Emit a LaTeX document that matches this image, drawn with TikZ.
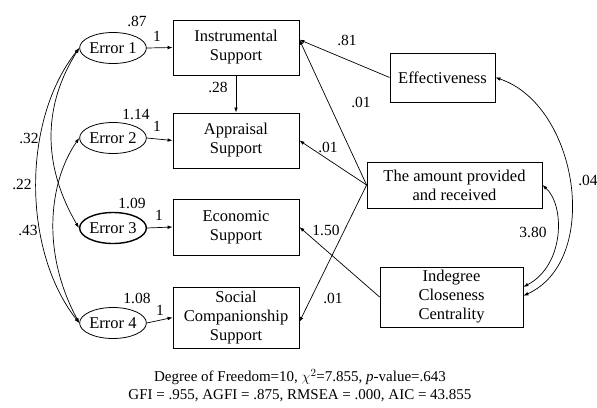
\documentclass[tikz,border=0pt]{standalone}
\usepackage{fontspec}
\setmainfont{Liberation Serif}
\usetikzlibrary{arrows.meta,shapes.geometric}
\begin{document}
\begin{tikzpicture}[x=1pt,y=-1pt,
  box/.style={draw, line width=0.8pt, align=center, inner sep=2pt, font=\fontsize{16.5}{19}\selectfont},
  err/.style={draw, ellipse, line width=0.8pt, minimum width=62pt, minimum height=31pt, inner sep=0pt, font=\fontsize{16.5}{19}\selectfont},
  lab/.style={font=\fontsize{15.5}{18}\selectfont, inner sep=0pt},
  arr/.style={line width=0.7pt, -{Latex[length=5pt,width=3.6pt]}},
  biarr/.style={line width=0.7pt, {Latex[length=5pt,width=3.6pt]}-{Latex[length=5pt,width=3.6pt]}}]
\useasboundingbox (0,0) rectangle (597,407);
% boxes
\node[box, minimum width=126pt, minimum height=55pt] (ins) at (236,47.5) {Instrumental\\Support};
\node[box, minimum width=126pt, minimum height=55pt] (app) at (236,140.5) {Appraisal\\Support};
\node[box, minimum width=126pt, minimum height=56pt] (eco) at (236,227) {Economic\\Support};
\node[box, minimum width=126pt, minimum height=61pt] (soc) at (236,317.5) {Social\\Companionship\\Support};
\node[box, minimum width=105pt, minimum height=49pt] (eff) at (442.5,77.5) {Effectiveness};
\node[box, minimum width=175pt, minimum height=46pt] (amt) at (454.5,185) {The amount provided\\and received};
\node[box, minimum width=143pt, minimum height=60pt] (ind) at (451.5,297) {Indegree\\Closeness\\Centrality};
% errors
\node[err] (e1) at (113,48) {Error 1};
\node[err] (e2) at (113,138) {Error 2};
\node[err, line width=1.4pt] (e3) at (113,228) {Error 3};
\node[err] (e4) at (113,323) {Error 4};
% error to box
\draw[arr] (e1.east) -- (ins.west);
\draw[arr] (e2.east) -- (app.west);
\draw[arr] (e3.east) -- (eco.west);
\draw[arr] (e4.east) -- (soc.west);
\draw[arr] (ins.south) -- (app.north);
% right side paths
\draw[arr] (eff.west) -- (ins.7);
\draw[arr] (amt.west) -- (ins.7);
\draw[arr] (amt.west) -- (app.east);
\draw[arr] (amt.west) -- (soc.-4);
\draw[arr] (ind.west) -- (eco.east);
% covariances right
\draw[biarr] (eff.east) .. controls (578,105) and (602,260) .. (ind.1);
\draw[biarr] (amt.east) .. controls (565,205) and (565,265) .. (ind.8);
% covariances left
\draw[biarr] (e1.west) .. controls (22,120) and (22,250) .. (e4.west);
\draw[biarr] (e1.west) .. controls (40,110) and (45,170) .. (e3.west);
\draw[biarr] (e2.west) .. controls (50,180) and (40,250) .. (e4.west);
% labels
\node[lab] (l87) at (137,21) {.87};
\node[lab] (l114) at (136,114) {1.14};
\node[lab] (l109) at (132,203) {1.09};
\node[lab] (l108) at (137,298) {1.08};
\node[lab] (w1) at (157,36) {1};
\node[lab] (w2) at (157,126) {1};
\node[lab] (w3) at (159,215) {1};
\node[lab] (w4) at (160,310) {1};
\node[lab] (l28) at (218,87) {.28};
\node[lab] (l32) at (29,138) {.32};
\node[lab] (l22) at (22,184) {.22};
\node[lab] (l43) at (28,230) {.43};
\node[lab] (l81) at (347,40) {.81};
\node[lab] (l01a) at (361,102) {.01};
\node[lab] (l01b) at (328,147) {.01};
\node[lab] (l150) at (326,230) {1.50};
\node[lab] (l01c) at (333,298) {.01};
\node[lab] (l380) at (533,232) {3.80};
\node[lab] (l04) at (588,180) {.04};
\node[lab, align=center, font=\fontsize{15}{18}\selectfont] (fit) at (300,386)
  {Degree of Freedom=10, $\chi^{2}$=7.855, \textit{p}-value=.643\\GFI = .955, AGFI = .875, RMSEA = .000, AIC = 43.855};
\end{tikzpicture}
\end{document}
